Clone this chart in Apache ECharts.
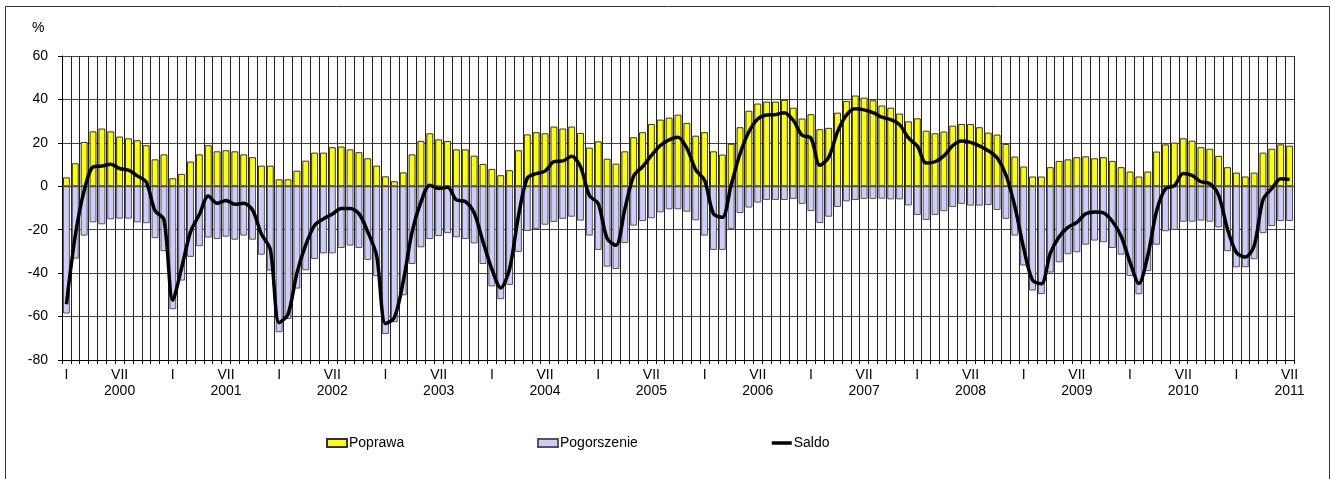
<!DOCTYPE html>
<html>
<head>
<meta charset="utf-8">
<script src="https://cdn.jsdelivr.net/npm/echarts@6/dist/echarts.min.js"></script>
<style>
html,body{margin:0;padding:0;background:#fff;}
#chart{width:1333px;height:479px;}
</style>
</head>
<body>
<div id="chart"></div>
<script>
// ---- DATA ----
var years = ['2000','2001','2002','2003','2004','2005','2006','2007','2008','2009','2010','2011'];
var monthMarks = ['I','','','','','','VII','','','','',''];
var monthsInLastYear = 7;

var poprawa = [
  4.1, 10.6, 20.4, 25.3, 26.6, 25.3, 22.9, 22.1, 21.2, 18.9, 12.4, 14.7,
  3.7, 5.7, 11.4, 14.7, 18.9, 16.1, 16.6, 16.1, 14.7, 13.4, 9.5, 9.5,
  3.2, 3.2, 7.2, 11.8, 15.5, 15.5, 18.0, 18.3, 17.0, 15.7, 12.9, 9.5,
  4.6, 2.3, 6.4, 14.7, 20.9, 24.4, 21.6, 20.9, 17.0, 17.0, 14.1, 10.3,
  8.0, 5.1, 7.4, 16.6, 23.9, 24.9, 24.4, 27.5, 26.6, 27.5, 24.6, 17.8,
  20.7, 12.7, 10.4, 16.1, 22.6, 24.9, 28.7, 30.7, 31.6, 33.0, 29.2, 23.3,
  24.9, 16.1, 14.6, 19.6, 27.2, 34.8, 38.1, 39.0, 39.0, 39.8, 36.2, 31.2,
  33.2, 26.3, 26.9, 33.9, 39.3, 41.8, 40.8, 39.6, 37.2, 36.2, 33.5, 29.9,
  31.3, 25.6, 24.4, 25.2, 27.9, 28.7, 28.7, 27.2, 24.7, 23.8, 19.5, 13.7,
  9.1, 4.5, 4.5, 8.8, 11.7, 12.4, 13.4, 13.8, 12.9, 13.4, 11.7, 8.8,
  6.8, 4.5, 6.8, 16.0, 19.3, 20.1, 22.1, 21.0, 18.0, 17.3, 14.0, 8.8,
  6.3, 4.5, 6.3, 15.5, 17.3, 19.3, 18.7
];

var pogorszenie = [
  -58.6, -33.3, -22.7, -16.6, -17.5, -15.2, -14.9, -14.9, -16.6, -17.0, -23.9, -29.9,
  -56.6, -43.4, -32.5, -27.6, -23.6, -24.3, -23.2, -24.6, -22.7, -24.6, -31.5, -38.8,
  -67.2, -61.1, -47.1, -38.7, -33.5, -30.9, -30.9, -28.4, -27.3, -28.4, -33.9, -41.4,
  -68.0, -62.6, -50.2, -35.8, -28.1, -24.3, -22.9, -21.6, -23.5, -24.3, -26.3, -35.8,
  -46.1, -52.0, -45.4, -30.2, -20.6, -19.6, -17.7, -16.4, -15.0, -14.0, -15.8, -22.7,
  -29.3, -37.0, -38.1, -26.1, -18.1, -16.0, -14.7, -12.0, -10.6, -10.6, -11.7, -15.7,
  -22.7, -29.3, -29.3, -19.6, -12.3, -9.8, -7.5, -6.3, -6.3, -6.3, -5.8, -8.1,
  -11.4, -16.9, -14.0, -9.5, -6.9, -6.3, -5.8, -5.8, -5.7, -6.0, -6.0, -8.8,
  -13.2, -15.5, -13.2, -11.5, -9.5, -8.1, -8.9, -8.9, -8.6, -10.9, -15.0, -22.7,
  -36.5, -48.0, -49.6, -39.7, -35.0, -31.3, -30.4, -26.9, -25.0, -25.8, -28.4, -31.5,
  -41.3, -49.7, -39.1, -26.9, -20.7, -20.1, -16.3, -16.3, -15.8, -16.3, -18.9, -29.9,
  -37.3, -37.3, -33.6, -21.6, -18.3, -16.0, -16.0
];

var saldo = [
  -54.3, -22.7, -2.0, 8.9, 9.3, 10.2, 8.2, 7.4, 4.8, 2.0, -11.3, -15.3,
  -52.5, -37.5, -21.0, -13.0, -4.5, -7.8, -6.5, -8.3, -7.8, -11.0, -22.0, -29.0,
  -62.8, -59.0, -40.0, -27.0, -18.0, -15.0, -12.8, -10.2, -10.2, -12.6, -21.0, -32.0,
  -63.2, -60.5, -43.8, -21.0, -7.2, 0.5, -1.0, -0.5, -6.3, -7.0, -12.2, -25.5,
  -38.2, -46.8, -38.0, -13.6, 3.8, 5.8, 7.0, 11.3, 11.7, 13.8, 9.0, -4.2,
  -8.0, -24.0, -27.2, -10.5, 4.8, 9.0, 14.2, 18.8, 21.4, 22.6, 17.5, 7.6,
  2.7, -12.7, -14.3, 0.7, 15.0, 25.1, 31.0, 32.8, 33.0, 33.9, 30.4, 23.5,
  22.2, 9.7, 13.3, 25.1, 32.8, 35.7, 35.2, 33.9, 31.8, 30.7, 28.4, 22.3,
  18.5, 10.7, 11.3, 14.0, 18.7, 20.8, 20.2, 18.6, 16.4, 13.1, 5.2, -9.2,
  -28.5, -43.3, -44.9, -30.9, -23.2, -18.9, -16.6, -12.7, -11.8, -12.2, -16.1, -23.0,
  -35.0, -44.8, -32.0, -11.3, -1.1, 0.3, 5.9, 5.0, 2.1, 1.2, -4.2, -19.8,
  -30.5, -32.6, -27.5, -6.2, -1.0, 3.5, 3.1
];

var yTicks = {min: -80, max: 60, interval: 20};

// ---- categories and tick labels ----
var categories = [];
var tickLabels = [];
years.forEach(function (y, yi) {
  var n = (yi === years.length - 1) ? monthsInLastYear : 12;
  for (var m = 0; m < n; m++) {
    categories.push(y + '-' + (m + 1));
    var mk = monthMarks[m];
    tickLabels.push(mk === 'VII' ? 'VII\n' + y : mk);
  }
});

var FONT = 'Liberation Sans, Arial, sans-serif';
var FS = 14;
var legendText = {fontSize: FS, fontFamily: FONT, color: '#000', padding: [0, 0, 0, -3]};
var chart = echarts.init(document.getElementById('chart'), null, {renderer: 'canvas'});
chart.setOption({
  animation: false,
  backgroundColor: '#fff',
  textStyle: {fontFamily: FONT, color: '#000'},
  graphic: [
    {type: 'rect', shape: {x: 5.5, y: 6.5, width: 1324, height: 520}, style: {fill: 'none', stroke: '#333', lineWidth: 1}, silent: true, z: -10},
    {type: 'text', left: 32, top: 21, style: {text: '%', font: FS + 'px ' + FONT, fill: '#000'}}
  ],
  grid: {left: 62, top: 56, width: 1232, height: 304, containLabel: false},
  legend: [
    {left: 326, top: 436, padding: 0, itemWidth: 20, itemHeight: 8, textStyle: legendText,
     data: [{name: 'Poprawa', icon: 'rect'}]},
    {left: 537, top: 436, padding: 0, itemWidth: 20, itemHeight: 8, textStyle: legendText,
     data: [{name: 'Pogorszenie', icon: 'rect'}]},
    {left: 770, top: 436, padding: 0, itemWidth: 20, itemHeight: 8, textStyle: legendText,
     data: [{name: 'Saldo', itemStyle: {opacity: 0}, lineStyle: {width: 3.5, color: '#000'}}]}
  ],
  xAxis: {
    type: 'category',
    data: categories,
    boundaryGap: true,
    axisLine: {show: true, onZero: false, lineStyle: {color: '#000', width: 1}},
    axisTick: {show: true, interval: 0, length: 4, lineStyle: {color: '#000'}},
    axisLabel: {
      interval: 0, margin: 7, fontSize: FS, lineHeight: 16, color: '#000', fontFamily: FONT,
      formatter: function (v, idx) { return tickLabels[idx]; }
    },
    splitLine: {show: true, interval: 0, lineStyle: {color: '#222', width: 1}}
  },
  yAxis: {
    type: 'value',
    min: yTicks.min, max: yTicks.max, interval: yTicks.interval,
    axisLine: {show: true, lineStyle: {color: '#000'}},
    axisTick: {show: true, length: 4, lineStyle: {color: '#000'}},
    axisLabel: {margin: 14, fontSize: FS, color: '#000', fontFamily: FONT},
    splitLine: {show: true, lineStyle: {color: '#444', width: 1}}
  },
  series: [
    {
      name: 'Poprawa', type: 'bar', data: poprawa, barWidth: '78%', barGap: '-100%',
      itemStyle: {color: '#FFFF00', borderColor: '#333', borderWidth: 1}
    },
    {
      name: 'Pogorszenie', type: 'bar', data: pogorszenie, barWidth: '78%',
      itemStyle: {color: '#CCCCFF', borderColor: '#555', borderWidth: 1}
    },
    {
      name: 'Saldo', type: 'line', data: saldo, symbol: 'none', smooth: 0.3, z: 5,
      itemStyle: {color: '#000'},
      lineStyle: {color: '#000', width: 3.5}
    }
  ]
});
</script>
</body>
</html>
